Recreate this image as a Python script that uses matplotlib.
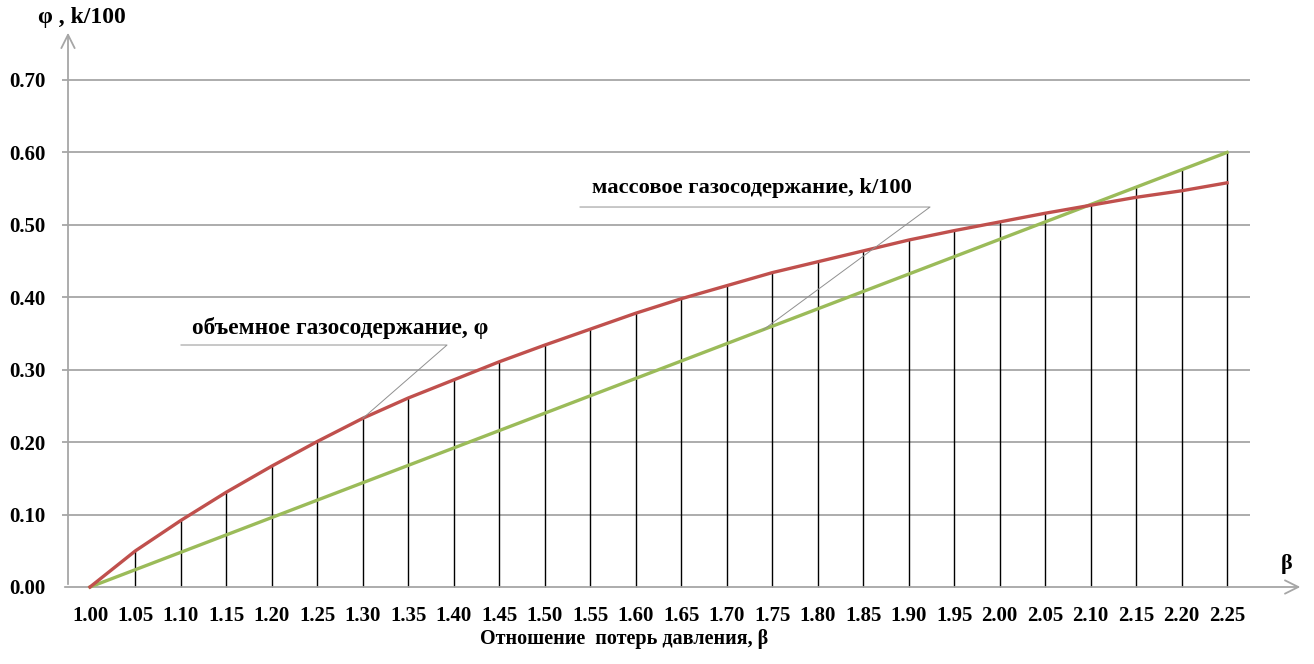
import numpy as np
import matplotlib.pyplot as plt

beta = [1.00, 1.05, 1.10, 1.15, 1.20, 1.25, 1.30, 1.35, 1.40, 1.45, 1.50, 1.55, 1.60,
        1.65, 1.70, 1.75, 1.80, 1.85, 1.90, 1.95, 2.00, 2.05, 2.10, 2.15, 2.20, 2.25]
phi = [0.000, 0.050, 0.092, 0.131, 0.167, 0.201, 0.233, 0.261, 0.286, 0.311, 0.334, 0.356, 0.378,
       0.398, 0.416, 0.434, 0.449, 0.464, 0.479, 0.492, 0.504, 0.516, 0.527, 0.538, 0.547, 0.558]
k100 = [0.000, 0.024, 0.048, 0.072, 0.096, 0.120, 0.144, 0.168, 0.192, 0.216, 0.240, 0.264, 0.288,
        0.312, 0.336, 0.360, 0.384, 0.408, 0.432, 0.456, 0.480, 0.504, 0.528, 0.552, 0.576, 0.600]
yticks = [0.0, 0.1, 0.2, 0.3, 0.4, 0.5, 0.6, 0.7]

plt.rcParams['font.family'] = ['Liberation Serif', 'DejaVu Serif']
plt.rcParams['font.weight'] = 'bold'

W, H = 1314, 664
fig = plt.figure(figsize=(W / 100, H / 100), dpi=100)
ax = fig.add_axes([62 / W, 64 / H, 1248 / W, 590 / H])
ax.set_xlim(0.9692, 2.3412)
ax.set_ylim(-0.01795, 0.7966)
for s in ax.spines.values():
    s.set_visible(False)

grid_c = '#A6A6A6'
ax.hlines(yticks[1:], 0.9692, 2.2753, color=grid_c, lw=1.3, zorder=1)

# axes with arrows
ax.annotate('', xy=(2.3336, 0), xytext=(0.9692, 0),
            arrowprops=dict(arrowstyle='->', color=grid_c, lw=1.3,
                            mutation_scale=24), annotation_clip=False)
ax.annotate('', xy=(0.9758, 0.769), xytext=(0.9758, 0),
            arrowprops=dict(arrowstyle='->', color=grid_c, lw=1.3,
                            mutation_scale=24), annotation_clip=False)

# vertical lines down from the curves
top = np.maximum(phi, k100)
ax.vlines(beta[1:], 0, top[1:], color='black', lw=1.0, zorder=2)

ax.plot(beta, k100, color='#9BBB59', lw=2.4, zorder=3)
ax.plot(beta, phi, color='#C0504D', lw=2.4, zorder=4)

ax.set_xticks(beta)
ax.set_xticklabels(['%.2f' % b for b in beta], fontsize=15, fontweight='bold')
ax.set_yticks(yticks)
ax.set_yticklabels(['%.2f' % v for v in yticks], fontsize=15, fontweight='bold')
ax.tick_params(axis='both', length=0)
ax.tick_params(axis='x', pad=4)
ax.tick_params(axis='y', pad=12)

# leader annotations
lc = '#909090'
ax.plot([1.100, 1.3925, beta[6]], [0.3341, 0.3341, phi[6]], color=lc, lw=0.7, zorder=5)
ax.text(1.1121, 0.3576, 'объемное газосодержание, φ', fontsize=16.8,
        fontweight='bold', ha='left', va='center')
ax.plot([1.5387, 1.9235, beta[15] - 0.01], [0.5246, 0.5246, k100[15] - 0.005],
        color=lc, lw=0.7, zorder=5)
ax.text(1.5519, 0.5509, 'массовое газосодержание, k/100', fontsize=16.2,
        fontweight='bold', ha='left', va='center')

fig.text(38 / W, 1 - 18 / H, 'φ , k/100', fontsize=17, fontweight='bold',
         ha='left', va='center')
fig.text(1287 / W, 1 - 564 / H, 'β', fontsize=16, fontweight='bold',
         ha='center', va='center')
fig.text(624 / W, 1 - 639 / H, 'Отношение  потерь давления, β', fontsize=14.5,
         fontweight='bold', ha='center', va='center')

fig.savefig('out.png', dpi=100, facecolor='white')
